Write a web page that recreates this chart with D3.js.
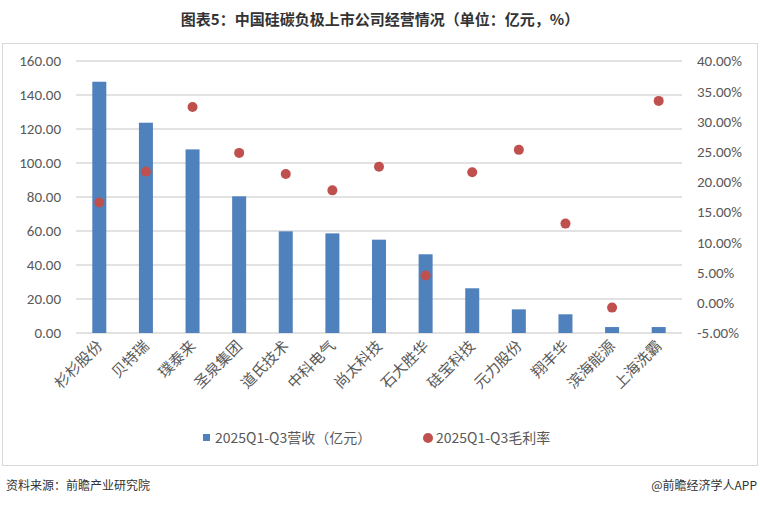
<!DOCTYPE html>
<meta charset="utf-8">
<style>
body{margin:0;background:#fff;font-family:"Noto Sans CJK SC","Noto Sans",sans-serif;}
</style>
<body>
<div id="chart"></div>
<script src="https://d3js.org/d3.v7.min.js"></script>
<script>

var companies = ["杉杉股份","贝特瑞","璞泰来","圣泉集团","道氏技术","中科电气","尚太科技","石大胜华","硅宝科技","元力股份","翔丰华","滨海能源","上海洗霸"];
var revenue = [147.8, 123.7, 108.0, 80.4, 59.8, 58.6, 54.9, 46.3, 26.3, 13.9, 11.0, 3.5, 3.5];
var margin = [16.6, 21.7, 32.4, 24.8, 21.3, 18.6, 22.5, 4.5, 21.6, 25.3, 13.1, -0.8, 33.4];
var leftTicks = [0, 20, 40, 60, 80, 100, 120, 140, 160];
var rightTicks = [-5, 0, 5, 10, 15, 20, 25, 30, 35, 40];

var width = 760, height = 505;
var blue = "#4f81bd", red = "#c0504d";

var svg = d3.select("#chart").append("svg")
    .attr("width", width)
    .attr("height", height);

// outer frame
svg.append("rect")
    .attr("x", 2.5).attr("y", 43.5)
    .attr("width", 755).attr("height", 422)
    .style("fill", "none").style("stroke", "#d9d9d9");

svg.append("text")
    .attr("x", 380).attr("y", 25)
    .attr("text-anchor", "middle")
    .style("font-size", "15px").style("font-weight", "bold").style("fill", "#333")
    .text("图表5：中国硅碳负极上市公司经营情况（单位：亿元，%）");

var x = d3.scaleBand().domain(companies).range([76, 682]);
var y = d3.scaleLinear().domain([0, 160]).range([333, 61]);
var y2 = d3.scaleLinear().domain([-5, 40]).range([333, 61]);

// gridlines
svg.append("g").selectAll("line")
    .data(leftTicks)
  .enter().append("line")
    .attr("x1", 76).attr("x2", 682)
    .attr("y1", function(d) { return y(d); })
    .attr("y2", function(d) { return y(d); })
    .style("stroke", "#d9d9d9").style("stroke-width", 1.3);

var leftAxis = svg.append("g")
    .attr("transform", "translate(61,0)")
    .call(d3.axisLeft(y).tickValues(leftTicks).tickSize(0).tickFormat(d3.format(".2f")));
var rightAxis = svg.append("g")
    .attr("transform", "translate(697,0)")
    .call(d3.axisRight(y2).tickValues(rightTicks).tickSize(0).tickFormat(function(d) { return d.toFixed(2) + "%"; }));
[leftAxis, rightAxis].forEach(function(a) {
  a.select(".domain").remove();
  a.selectAll("text")
    .attr("x", 0)
    .style("font-family", "Calibri,'Liberation Sans','Noto Sans',sans-serif")
    .style("font-size", "15px").style("fill", "#595959");
});

var bw = 14;
svg.append("g").selectAll("rect")
    .data(revenue)
  .enter().append("rect")
    .attr("x", function(d, i) { return x(companies[i]) + x.bandwidth() / 2 - bw / 2; })
    .attr("y", function(d) { return y(d); })
    .attr("width", bw)
    .attr("height", function(d) { return y(0) - y(d); })
    .style("fill", blue);

svg.append("g").selectAll("circle")
    .data(margin)
  .enter().append("circle")
    .attr("cx", function(d, i) { return x(companies[i]) + x.bandwidth() / 2; })
    .attr("cy", function(d) { return y2(d); })
    .attr("r", 5)
    .style("fill", red);

// category labels
svg.append("g").selectAll("text")
    .data(companies)
  .enter().append("text")
    .attr("transform", function(d) {
      return "translate(" + (x(d) + x.bandwidth() / 2 + 4) + ",347) rotate(-45)";
    })
    .attr("text-anchor", "end")
    .style("font-size", "15px").style("fill", "#595959")
    .text(function(d) { return d; });

// legend
var lg = svg.append("g").style("font-size", "14px").style("fill", "#595959");
lg.append("rect").attr("x", 203).attr("y", 434).attr("width", 7).attr("height", 7).style("fill", blue);
lg.append("text").attr("x", 215).attr("y", 443).text("2025Q1-Q3营收（亿元）");
lg.append("circle").attr("cx", 428).attr("cy", 438).attr("r", 5).style("fill", red);
lg.append("text").attr("x", 436).attr("y", 443).text("2025Q1-Q3毛利率");

svg.append("text")
    .attr("x", 6).attr("y", 490)
    .style("font-size", "12px").style("fill", "#333")
    .text("资料来源：前瞻产业研究院");
svg.append("text")
    .attr("x", 757).attr("y", 490)
    .attr("text-anchor", "end")
    .style("font-size", "12px").style("fill", "#333")
    .text("@前瞻经济学人APP");

</script>
</body>
</html>
